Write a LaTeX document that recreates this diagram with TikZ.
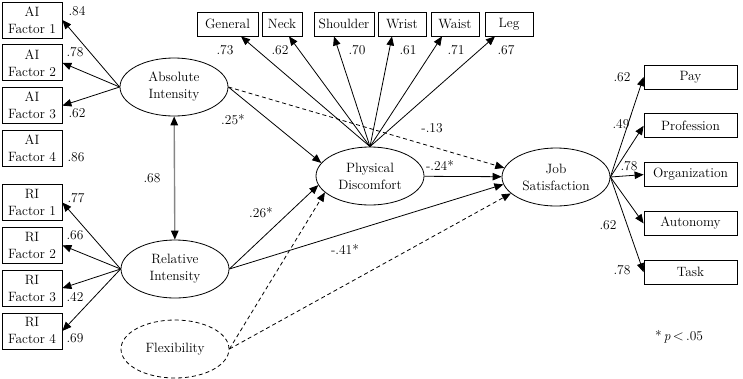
\documentclass[tikz,border=0pt]{standalone}
\usepackage{fontspec}
\usetikzlibrary{arrows.meta,positioning,shapes.geometric}
\definecolor{SemInk}{HTML}{000000}
\definecolor{SemGray}{HTML}{858585}

\begin{document}
\begin{tikzpicture}[
    x=1pt, y=-1pt,
    font=\fontsize{13.5}{17}\selectfont,
    indicator/.style={
        rectangle,
        draw=SemInk,
        line width=0.8pt,
        minimum width=60pt,
        minimum height=36pt,
        inner sep=0pt,
        align=center
    },
    item/.style={
        rectangle,
        draw=SemInk,
        line width=0.8pt,
        minimum height=24pt,
        inner sep=0pt
    },
    facet/.style={item, minimum width=93pt},
    latent/.style={
        ellipse,
        draw=SemInk,
        line width=0.8pt,
        minimum width=108pt,
        minimum height=58pt,
        inner sep=0pt,
        align=center
    },
    loading/.style={
        -{Triangle[length=9pt,width=7.5pt]},
        line width=0.8pt,
        draw=SemInk
    },
    nonsig/.style={loading, dash pattern=on 4pt off 3pt},
    correlation/.style={
        {Triangle[length=9pt,width=7.5pt,SemInk]}-{Triangle[length=9pt,width=7.5pt,SemInk]},
        line width=1.4pt,
        draw=SemGray
    },
    coef/.style={inner sep=0pt},
    node distance=6pt
]
    \useasboundingbox (0,0) rectangle (743,378);

    % latent variables
    \node[latent] (ai) at (174,87) {Absolute\\Intensity};
    \node[latent] (ri) at (175,269) {Relative\\Intensity};
    \node[latent, dash pattern=on 4pt off 3pt] (flex) at (175,349) {Flexibility};
    \node[latent] (pd) at (370,176) {Physical\\Discomfort};
    \node[latent] (js) at (556,177) {Job\\Satisfaction};

    % AI and RI indicators
    \node[indicator] (ai1) at (32,20) {AI\\Factor 1};
    \node[indicator, below=of ai1] (ai2) {AI\\Factor 2};
    \node[indicator, below=of ai2] (ai3) {AI\\Factor 3};
    \node[indicator, below=of ai3] (ai4) {AI\\Factor 4};
    \node[indicator] (ri1) at (32,202.5) {RI\\Factor 1};
    \node[indicator, below=of ri1] (ri2) {RI\\Factor 2};
    \node[indicator, below=of ri2] (ri3) {RI\\Factor 3};
    \node[indicator, below=of ri3] (ri4) {RI\\Factor 4};

    % discomfort items
    \node[item, minimum width=61pt] (general) at (227.5,24) {General};
    \node[item, minimum width=40pt] (neck) at (282,24) {Neck};
    \node[item, minimum width=60pt] (shoulder) at (344,24) {Shoulder};
    \node[item, minimum width=48pt] (wrist) at (402,24) {Wrist};
    \node[item, minimum width=48pt] (waist) at (455,24) {Waist};
    \node[item, minimum width=48pt] (leg) at (509,24) {Leg};

    % satisfaction facets
    \node[facet] (pay) at (690.5,77) {Pay};
    \node[facet, below=24pt of pay] (profession) {Profession};
    \node[facet, below=24pt of profession] (organization) {Organization};
    \node[facet, below=24pt of organization] (autonomy) {Autonomy};
    \node[facet, below=24pt of autonomy] (task) {Task};

    % measurement paths
    \foreach \ind in {ai1,ai2,ai3}
        \draw[loading] (ai.west) -- (\ind.east);
    \foreach \ind in {ri1,ri2,ri3,ri4}
        \draw[loading] (ri.west) -- (\ind.east);
    \foreach \ind/\dx in {general/13.5,neck/7,shoulder/-10,wrist/-10,waist/-13,leg/-14}
        \draw[loading] (pd.north) -- ([xshift=\dx pt]\ind.south);
    \foreach \ind in {pay,profession,organization,autonomy,task}
        \draw[loading] (js.east) -- (\ind.west);

    % structural paths
    \draw[correlation] (ai) -- (ri);
    \draw[loading] (ai.east) -- (pd.165);
    \draw[nonsig] (ai.east) -- (js.170);
    \draw[loading] (pd) -- (js);
    \draw[loading] (ri.east) -- (pd.190);
    \draw[loading] (ri.east) -- (js.188);
    \draw[nonsig] (flex.east) -- (pd.200);
    \draw[nonsig] (flex.east) -- (js.200);

    % coefficients
    \node[coef] (c-ai1) at (77,11) {.84};
    \node[coef] (c-ai2) at (75,52) {.78};
    \node[coef] (c-ai3) at (77,113) {.62};
    \node[coef] (c-ai4) at (76,157) {.86};
    \node[coef] (c-r) at (152,178) {.68};
    \node[coef] (c-ri1) at (76,198) {.77};
    \node[coef] (c-ri2) at (75,235) {.66};
    \node[coef] (c-ri3) at (75,297) {.42};
    \node[coef] (c-ri4) at (75,338) {.69};
    \node[coef] (c-general) at (225,50) {.73};
    \node[coef] (c-neck) at (280,50) {.62};
    \node[coef] (c-shoulder) at (357,50) {.70};
    \node[coef] (c-wrist) at (408,50) {.61};
    \node[coef] (c-waist) at (456,50) {.71};
    \node[coef] (c-leg) at (506,50) {.67};
    \node[coef] (c-aipd) at (233,120) {.25*};
    \node[coef] (c-aijs) at (432,128) {-.13};
    \node[coef] (c-pdjs) at (440,165) {-.24*};
    \node[coef] (c-ripd) at (261,213) {.26*};
    \node[coef] (c-rijs) at (345,249) {-.41*};
    \node[coef] (c-pay) at (622,77) {.62};
    \node[coef] (c-profession) at (621,124) {.49};
    \node[coef] (c-organization) at (629,166) {.78};
    \node[coef] (c-autonomy) at (608,225) {.62};
    \node[coef] (c-task) at (622,270) {.78};
    \node[coef] (note) at (679,337) {*\,\textit{p}\,$<$\,.05};
\end{tikzpicture}
\end{document}
